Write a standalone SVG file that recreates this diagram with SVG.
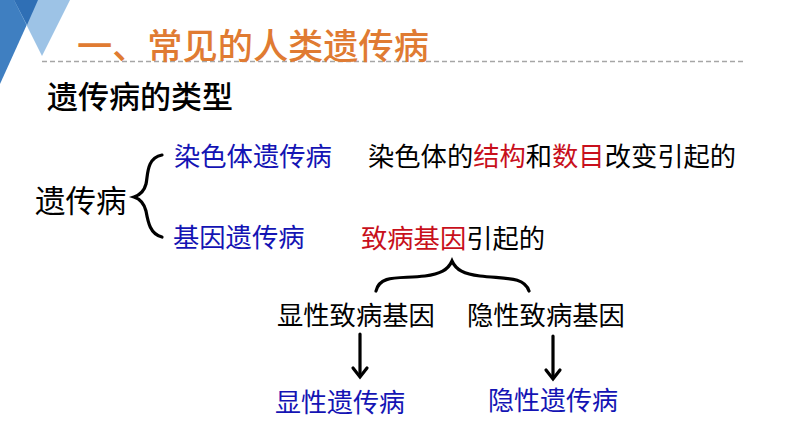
<svg xmlns="http://www.w3.org/2000/svg" width="794" height="447" viewBox="0 0 794 447">
<style>
text{font-family:"Noto Sans CJK SC","Liberation Sans",sans-serif;font-size:26.3px;fill:#000}
.b{fill:#1414b4}
.r{fill:#c8101c}
.c{fill:none;stroke:#000;stroke-width:3.2;stroke-linecap:round}
</style>
<rect width="794" height="447" fill="#fff"/>
<g id="deco">
<polygon points="0,0 38,0 0,84" fill="#3f7fc1"/>
<polygon points="14,0 70,0 42,56" fill="#9dc3e6"/>
<polygon points="14,0 38,0 27,25" fill="#2f6fb5"/>
<line x1="42" y1="61.500" x2="744" y2="61.500" stroke="#a6a6a6" stroke-width="1.300" stroke-dasharray="5 3"/>
</g>
<g id="title"><text x="77" y="59" style="font-size:35.200px;font-weight:500;fill:#e07b32">一、常见的人类遗传病</text></g>
<g id="subtitle"><text x="47" y="108" style="font-size:31px;font-weight:500">遗传病的类型</text></g>
<g id="root"><text x="35" y="212" style="font-size:30.500px">遗传病</text></g>
<g id="n1"><text x="174" y="166" class="b">染色体遗传病</text></g>
<g id="n1d"><text x="368" y="166">染色体的<tspan class="r">结构</tspan>和<tspan class="r">数目</tspan>改变引起的</text></g>
<g id="n2"><text x="173" y="247" class="b">基因遗传病</text></g>
<g id="n2d"><text x="361" y="248"><tspan class="r">致病基因</tspan>引起的</text></g>
<g id="n3"><text x="277" y="325">显性致病基因</text></g>
<g id="n4"><text x="467" y="325">隐性致病基因</text></g>
<g id="n5"><text x="275" y="412" class="b" style="font-size:26px">显性遗传病</text></g>
<g id="n6"><text x="488" y="410" class="b" style="font-size:26px">隐性遗传病</text></g>
<g id="connectors">
<path class="c" d="M162 155C146 158 148 176 146 184C144 192 140 195 134 197C140 199 144 203 146 211C148 222 150 234 162 237"/>
<path class="c" d="M376 291C380 274 400 279 425 276C440 274 448 270 452 261C456 270 464 274 480 276C504 279 524 276 529 291"/>
<line class="c" x1="360" y1="334" x2="360" y2="376"/>
<path class="c" d="M353 368L360 377L367 368"/>
<line class="c" x1="553" y1="336" x2="553" y2="378"/>
<path class="c" d="M546 370L553 379L560 370"/>
</g>
</svg>
